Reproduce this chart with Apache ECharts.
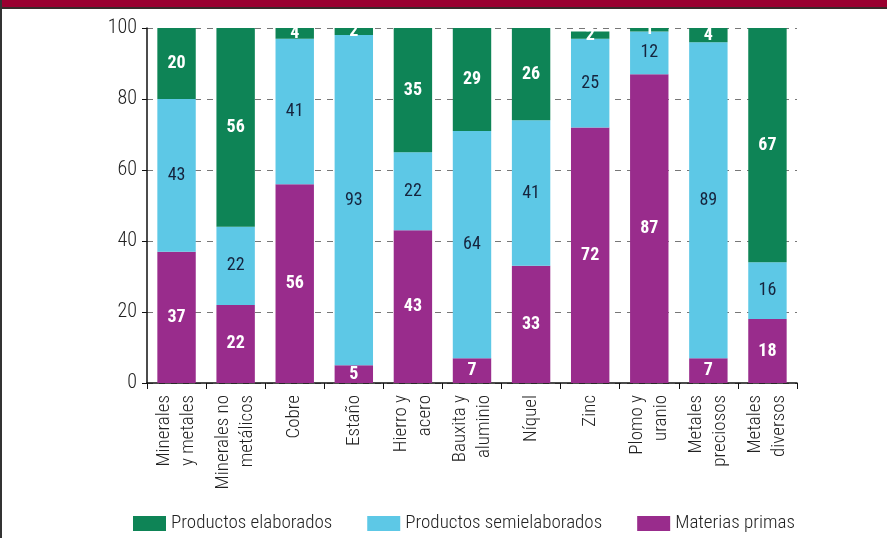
<!DOCTYPE html>
<html><head><meta charset="utf-8">
<script src="https://cdn.jsdelivr.net/npm/echarts@6/dist/echarts.min.js"></script>
<style>html,body{margin:0;padding:0;background:#fff}#c{width:887px;height:538px}</style>
</head><body><div id="c"></div>
<script>
const categories = ['Minerales\ny metales','Minerales no\nmetálicos','Cobre','Estaño','Hierro y\nacero','Bauxita y\naluminio','Níquel','Zinc','Plomo y\nuranio','Metales\npreciosos','Metales\ndiversos'];
const materiasPrimas = [37,22,56,5,43,7,33,72,87,7,18];
const semielaborados = [43,22,41,93,22,64,41,25,12,89,16];
const elaborados = [20,56,4,2,35,29,26,2,1,4,67];
const yTicks = [0,20,40,60,80,100];

const FONT = '"Roboto Condensed","Roboto",sans-serif';
const C_GREEN = '#0e8456', C_BLUE = '#5dc8e6', C_PURPLE = '#992c8c';

const chart = echarts.init(document.getElementById('c'));
function lab(color, bold){
  return {show:true, position:'inside', color:color, fontFamily:FONT, fontSize:18, fontWeight:bold?'bold':'normal'};
}
chart.setOption({
  animation:false,
  textStyle:{fontFamily:FONT},
  graphic:[
    {type:'rect', shape:{x:0,y:0,width:887,height:7}, style:{fill:'#9a0030'}, z:100},
    {type:'rect', shape:{x:0,y:7,width:887,height:2}, style:{fill:'#3a2a2a'}, z:100},
    {type:'rect', shape:{x:0,y:0,width:2,height:538}, style:{fill:'#333'}, z:100}
  ],
  grid:{left:147, right:90, top:28, bottom:155},
  legend:{
    bottom:0, left:128, itemWidth:33, itemGap:35, itemHeight:15, icon:'rect',
    data:['Productos elaborados','Productos semielaborados','Materias primas'],
    textStyle:{fontFamily:FONT, fontSize:19, fontWeight:300, color:'#222'}
  },
  xAxis:{
    type:'category', data:categories,
    axisLine:{lineStyle:{color:'#111', width:1.5}},
    axisTick:{show:true, length:6, lineStyle:{color:'#111'}},
    axisLabel:{rotate:90, interval:0, margin:12, fontFamily:FONT, fontSize:19, fontWeight:300, color:'#222', lineHeight:24}
  },
  yAxis:{
    type:'value', min:0, max:100, interval:20,
    axisLine:{show:true, lineStyle:{color:'#111', width:1.5}},
    axisTick:{show:true, length:5, lineStyle:{color:'#111'}},
    axisLabel:{fontFamily:FONT, fontSize:20, fontWeight:300, color:'#222', margin:10},
    splitLine:{show:true, lineStyle:{color:'#777', type:[6,6], width:1}}
  },
  series:[
    {name:'Materias primas', type:'bar', stack:'t', data:materiasPrimas, barWidth:'65%', itemStyle:{color:C_PURPLE}, label:lab('#fff',true)},
    {name:'Productos semielaborados', type:'bar', stack:'t', data:semielaborados, itemStyle:{color:C_BLUE}, label:lab('#16243d',false)},
    {name:'Productos elaborados', type:'bar', stack:'t', data:elaborados, itemStyle:{color:C_GREEN}, label:lab('#fff',true)}
  ]
});
</script></body></html>
